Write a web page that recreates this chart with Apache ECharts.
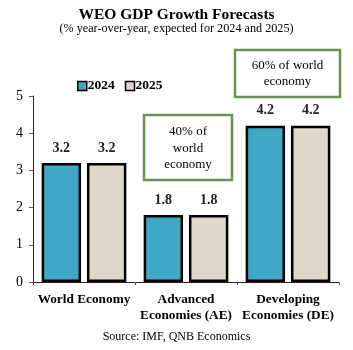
<!DOCTYPE html>
<html><head><meta charset="utf-8">
<script src="https://cdn.jsdelivr.net/npm/echarts@6/dist/echarts.min.js"></script>
<style>html,body{margin:0;padding:0;background:#fff}#c{width:353px;height:350px}</style>
</head><body><div id="c"></div>
<script>
const categories = ['World Economy', 'Advanced\nEconomies (AE)', 'Developing\nEconomies (DE)'];
const seriesNames = ['2024', '2025'];
const values2024 = [3.2, 1.8, 4.2];
const values2025 = [3.2, 1.8, 4.2];
const yTicks = [0, 1, 2, 3, 4, 5];

const F = '"Liberation Serif", "Times New Roman", serif';
const chart = echarts.init(document.getElementById('c'));
const barLabel = {show: true, position: 'top', distance: 8, fontFamily: F, fontWeight: 'bold', fontSize: 14, color: '#222'};
chart.setOption({
  animation: false,
  title: [
    {text: 'WEO GDP Growth Forecasts', left: 'center', top: 2, textStyle: {fontFamily: F, fontWeight: 'bold', fontSize: 15.5, color: '#000'}},
    {text: '(% year-over-year, expected for 2024 and 2025)', left: 'center', top: 18, textStyle: {fontFamily: F, fontWeight: 'normal', fontSize: 12.2, color: '#000'}},
    {text: 'Source: IMF, QNB Economics', left: 'center', top: 326, textStyle: {fontFamily: F, fontWeight: 'normal', fontSize: 12, color: '#000'}}
  ],
  legend: {
    data: seriesNames, left: 72, top: 74, itemWidth: 9, itemHeight: 9, itemGap: 10,
    icon: 'rect',
    textStyle: {fontFamily: F, fontWeight: 'bold', fontSize: 13.5, color: '#000', padding: [0, 0, 0, -4]},
    itemStyle: {borderColor: '#000', borderWidth: 1.5}
  },
  grid: {left: 33, right: 14, top: 96, bottom: 68},
  xAxis: {
    type: 'category', data: categories,
    axisLine: {lineStyle: {color: '#3a1a1a', width: 1}},
    axisTick: {show: true, length: 3, lineStyle: {color: '#555'}},
    axisLabel: {fontFamily: F, fontWeight: 'bold', fontSize: 13.3, color: '#000', margin: 10, lineHeight: 16, interval: 0}
  },
  yAxis: {
    type: 'value', min: 0, max: 5, interval: 1,
    axisLine: {show: true, lineStyle: {color: '#3a1a1a', width: 1}},
    axisTick: {show: true, length: 4, lineStyle: {color: '#555'}},
    splitLine: {show: false},
    axisLabel: {fontFamily: F, fontSize: 14, color: '#000', margin: 10,
      formatter: v => yTicks.includes(v) ? String(v) : ''}
  },
  series: [
    {name: seriesNames[0], type: 'bar', data: values2024, barGap: '15%', barCategoryGap: '17%',
     itemStyle: {color: '#3fa8c7', borderColor: '#000', borderWidth: 2.5}, label: barLabel},
    {name: seriesNames[1], type: 'bar', data: values2025,
     itemStyle: {color: '#ddd8c7', borderColor: '#000', borderWidth: 2.5}, label: barLabel}
  ],
  graphic: [
    {type: 'rect', shape: {x: 144, y: 115, width: 88, height: 65}, style: {fill: '#fff', stroke: '#6b9050', lineWidth: 2.5}},
    {type: 'text', x: 188, y: 148.5, style: {text: '40% of\nworld\neconomy', fontFamily: F, fontSize: 13, lineHeight: 16.5, fill: '#000', align: 'center', verticalAlign: 'middle'}},
    {type: 'rect', shape: {x: 235, y: 50, width: 105, height: 47}, style: {fill: '#fff', stroke: '#6b9050', lineWidth: 2.5}},
    {type: 'text', x: 287.5, y: 73.5, style: {text: '60% of world\neconomy', fontFamily: F, fontSize: 13, lineHeight: 16, fill: '#000', align: 'center', verticalAlign: 'middle'}}
  ]
});
</script></body></html>
